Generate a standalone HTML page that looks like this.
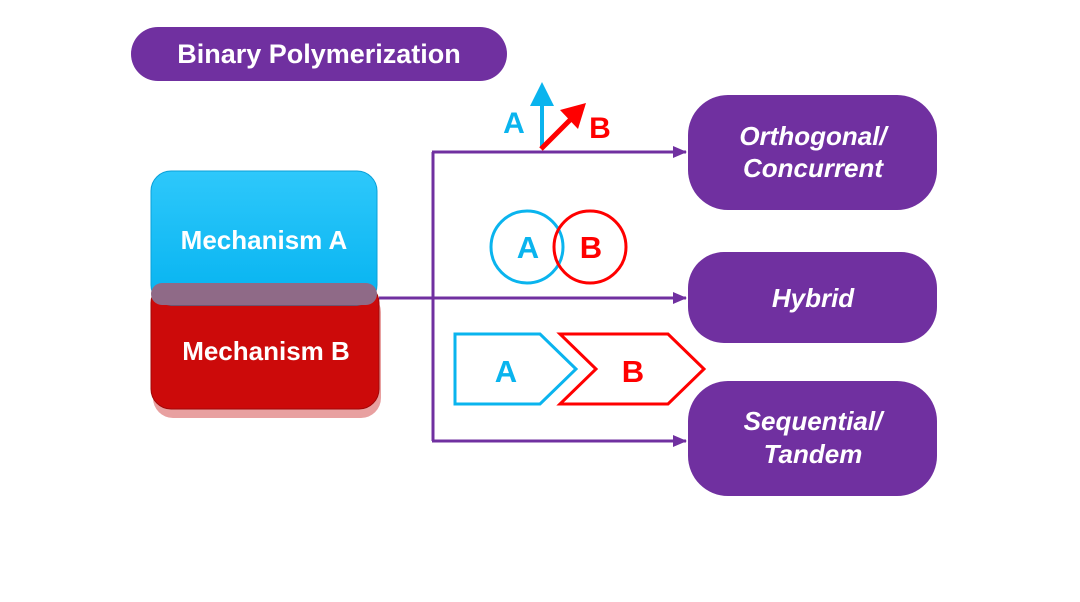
<!DOCTYPE html>
<html><head><style>
body{margin:0;background:#fff;width:1080px;height:597px;overflow:hidden;font-family:"Liberation Sans",sans-serif}
</style></head><body>
<svg width="1080" height="597" xmlns="http://www.w3.org/2000/svg" font-family="Liberation Sans, sans-serif" font-weight="bold">
<defs>
<marker id="ar" markerWidth="14" markerHeight="12" refX="13" refY="6" orient="auto" markerUnits="userSpaceOnUse"><path d="M0,0 L14,6 L0,12 z" fill="#7030a0"/></marker>
<linearGradient id="gb" x1="0" y1="0" x2="0" y2="1"><stop offset="0" stop-color="#2ec8fb"/><stop offset="1" stop-color="#05b3f0"/></linearGradient>
</defs>
<rect x="131" y="27" width="376" height="54" rx="27" fill="#7030a0"/>
<text x="319" y="63" font-size="27" fill="#fff" text-anchor="middle">Binary Polymerization</text>
<rect x="153" y="292" width="228" height="126" rx="20" fill="#e8a0a0"/>
<rect x="151" y="283" width="228" height="126" rx="20" fill="#cc0a0a" stroke="#a00808"/>
<rect x="151" y="171" width="226" height="134" rx="20" fill="url(#gb)" stroke="#0aa0d8"/>
<rect x="151" y="283" width="226" height="22" rx="11" fill="#8f6a87"/>
<text x="264" y="249" font-size="26" fill="#fff" text-anchor="middle">Mechanism A</text>
<text x="266" y="360" font-size="26" fill="#fff" text-anchor="middle">Mechanism B</text>
<g stroke="#7030a0" stroke-width="3" fill="none">
<path d="M379,298 L686,298" marker-end="url(#ar)"/>
<path d="M433,152 L433,441"/>
<path d="M432,152 L686,152" marker-end="url(#ar)"/>
<path d="M432,441 L686,441" marker-end="url(#ar)"/>
</g>
<line x1="542" y1="148" x2="542" y2="100" stroke="#0ab4ee" stroke-width="4"/>
<path d="M530,106 L542,82 L554,106 Z" fill="#0ab4ee"/>
<line x1="541" y1="149" x2="570" y2="120" stroke="#f00" stroke-width="5"/>
<path d="M560,110 L586,103 L578,129 Z" fill="#f00"/>
<text x="514" y="133" font-size="30" fill="#0ab4ee" text-anchor="middle">A</text>
<text x="600" y="138" font-size="30" fill="#f00" text-anchor="middle">B</text>
<circle cx="527" cy="247" r="36" fill="none" stroke="#0ab4ee" stroke-width="3"/>
<circle cx="590" cy="247" r="36" fill="none" stroke="#f00" stroke-width="3"/>
<text x="528" y="258" font-size="31" fill="#0ab4ee" text-anchor="middle">A</text>
<text x="591" y="258" font-size="31" fill="#f00" text-anchor="middle">B</text>
<path d="M455,334 L540,334 L576,369 L540,404 L455,404 Z" fill="none" stroke="#0ab4ee" stroke-width="3"/>
<path d="M560,334 L668,334 L704,369 L668,404 L560,404 L596,369 Z" fill="none" stroke="#f00" stroke-width="3"/>
<text x="506" y="382" font-size="31" fill="#0ab4ee" text-anchor="middle">A</text>
<text x="633" y="382" font-size="31" fill="#f00" text-anchor="middle">B</text>
<rect x="688" y="95" width="249" height="115" rx="40" fill="#7030a0"/>
<rect x="688" y="252" width="249" height="91" rx="36" fill="#7030a0"/>
<rect x="688" y="381" width="249" height="115" rx="40" fill="#7030a0"/>
<g font-style="italic" font-size="26" fill="#fff" text-anchor="middle">
<text x="813" y="145">Orthogonal/</text>
<text x="813" y="177">Concurrent</text>
<text x="813" y="307">Hybrid</text>
<text x="813" y="430">Sequential/</text>
<text x="813" y="463">Tandem</text>
</g>
</svg>
</body></html>
